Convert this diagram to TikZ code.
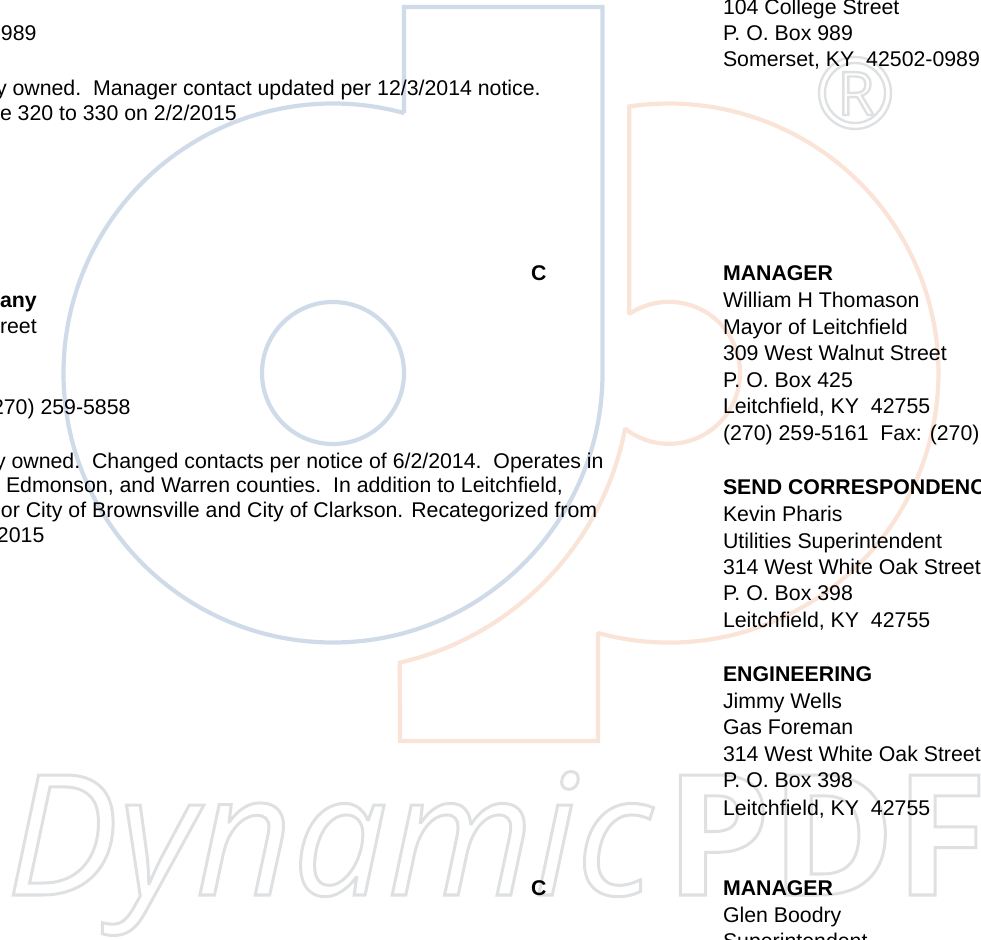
\documentclass[tikz,border=0pt]{standalone}
\usepackage{fontspec}
\setmainfont{Liberation Sans}
\newfontfamily\wmfont{Open Sans}
\definecolor{wmblue}{RGB}{208,219,234}
\definecolor{wmorange}{RGB}{250,228,215}
\definecolor{wmgray}{RGB}{222,224,226}
\newcommand{\outlined}[2]{\special{pdf:code q 1 Tr #1 w 0.87 0.878 0.886 RG}#2\special{pdf:code 0 Tr Q}}
\tikzset{
  doc/.style={anchor=base west,inner sep=0pt,outer sep=0pt,font=\fontsize{21.3}{24}\selectfont,text=black},
  docb/.style={doc,font=\fontsize{21.3}{24}\selectfont\bfseries},
  wmline/.style={line width=4.2pt,line join=miter,miter limit=1.6}
}
\begin{document}
\begin{tikzpicture}[x=1pt,y=1pt]
\useasboundingbox (0,0) rectangle (981,939);
\clip (0,0) rectangle (981,939);
% blue half of the emblem
\draw[wmblue,wmline] (404,826) -- (404,932) -- (602.5,932) -- (602.5,566)
  arc[start angle=0,end angle=-285.3,radius=269.5pt] -- cycle;
\draw[wmblue,wmline] (333,566) circle[radius=71pt];
% orange half of the emblem
\draw[wmorange,wmline] (629.3,625)
  arc[start angle=124,end angle=-128.2,radius=71pt]
  arc[start angle=-10.85,end angle=-77,radius=297.6pt]
  -- (400,198) -- (598,198) -- (598,306)
  arc[start angle=-105.27,end angle=98.5,radius=269.5pt] -- cycle;
% registered mark
\draw[wmgray,line width=2.4pt] (855,846) circle[radius=36pt];
\draw[wmgray,line width=2.4pt] (855,846) circle[radius=30pt];
\node[anchor=base,inner sep=0pt] (rmark) at (856,824) {\fontsize{60}{60}\wmfont\outlined{2.4}{R}};
% wordmark
\node[anchor=base west,inner sep=0pt] (word) at (6,44) {\fontsize{168}{168}\wmfont\itshape\outlined{3}{Dynamic}};
\node[anchor=base west,inner sep=0pt] (wordb) at (665,44) {\fontsize{168}{168}\wmfont\bfseries\outlined{3}{PDF}};
% left column
\node[doc] (l1) at (1,898) {989};
\node[doc] (l2) at (-4,843) {y owned.\ \ Manager contact updated per 12/3/2014 notice.};
\node[doc] (l3) at (0,818) {e 320 to 330 on 2/2/2015};
\node[docb] (l4) at (0,631) {any};
\node[doc] (l5) at (0,605) {reet};
\node[doc] (l6) at (-8,524) {270) 259-5858};
\node[doc] (l7) at (-5,470) {y owned.\ \ Changed contacts per notice of 6/2/2014.\ \ Operates in};
\node[doc] (l8) at (6,446) {Edmonson, and Warren counties.\ \ In addition to Leitchfield,};
\node[doc] (l9) at (1,421) {or City of Brownsville and City of Clarkson. Recategorized from};
\node[doc] (l10) at (-3,396) {2015};
% category letters
\node[docb] (c1) at (531,658) {C};
\node[docb] (c2) at (531,44) {C};
% right column
\node[doc] (r1) at (723,924) {104 College Street};
\node[doc] (r2) at (723,898) {P. O. Box 989};
\node[doc] (r3) at (723,872) {Somerset, KY\ \ 42502-0989};
\node[docb] (r4) at (723,658) {MANAGER};
\node[doc] (r5) at (723,631) {William H Thomason};
\node[doc] (r6) at (723,604) {Mayor of Leitchfield};
\node[doc] (r7) at (723,578) {309 West Walnut Street};
\node[doc] (r8) at (723,551) {P. O. Box 425};
\node[doc] (r9) at (723,525) {Leitchfield, KY\ \ 42755};
\node[doc] (r10) at (723,498) {(270) 259-5161\ \ Fax: (270)};
\node[docb] (r11) at (723,444) {SEND CORRESPONDENC};
\node[doc] (r12) at (723,417) {Kevin Pharis};
\node[doc] (r13) at (723,390) {Utilities Superintendent};
\node[doc] (r14) at (723,364) {314 West White Oak Street};
\node[doc] (r15) at (723,338) {P. O. Box 398};
\node[doc] (r16) at (723,311) {Leitchfield, KY\ \ 42755};
\node[docb] (r17) at (723,257) {ENGINEERING};
\node[doc] (r18) at (723,230) {Jimmy Wells};
\node[doc] (r19) at (723,204) {Gas Foreman};
\node[doc] (r20) at (723,177) {314 West White Oak Street};
\node[doc] (r21) at (723,151) {P. O. Box 398};
\node[doc] (r22) at (723,124) {Leitchfield, KY\ \ 42755};
\node[docb] (r23) at (723,44) {MANAGER};
\node[doc] (r24) at (723,17) {Glen Boodry};
\node[doc] (r25) at (723,-9) {Superintendent};
\end{tikzpicture}
\end{document}
